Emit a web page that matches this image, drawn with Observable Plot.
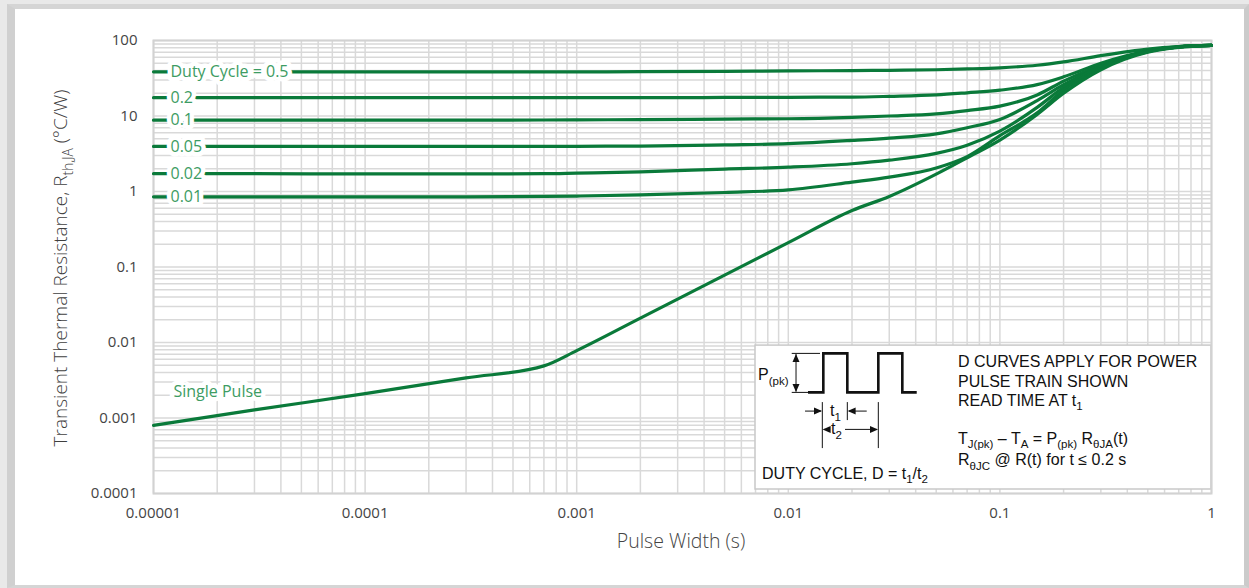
<!DOCTYPE html>
<html>
<head>
<meta charset="utf-8">
<script src="https://cdn.jsdelivr.net/npm/d3@7"></script>
<script src="https://cdn.jsdelivr.net/npm/@observablehq/plot@0.6"></script>
<style>
html, body { margin:0; padding:0; width:1249px; height:588px; overflow:hidden; background:#e9e9e9; }
#card { position:absolute; left:7px; top:4px; width:1229px; height:576px; background:#fff;
  border-left:8px solid #d0d0d0; border-top:5px solid #d5d5d5; border-right:5px solid #cbcbcb; border-bottom:3px solid #d5d5d5; }
#chart { position:absolute; left:0; top:0; }
</style>
</head>
<body>
<div id="card"></div>
<div id="chart"></div>
<script>
// ---- data ----
const pulseWidth = [1e-5, 3e-5, 1e-4, 3e-4, 7e-4, 1e-3, 2e-3, 5e-3, 0.01, 0.02, 0.03, 0.05, 0.07, 0.1, 0.15, 0.2, 0.3, 0.5, 0.7, 1];
const duty050 = [38.5, 38.5, 38.5, 38.5, 38.5, 38.5, 38.6, 39, 39.5, 40, 40.3, 41, 42, 43.5, 47, 52, 63, 77, 83, 86];
const duty020 = [17.5, 17.5, 17.5, 17.5, 17.5, 17.5, 17.5, 17.6, 17.7, 17.8, 18.2, 19, 20.3, 22, 26, 33, 50, 73, 83, 86];
const duty010 = [8.8, 8.8, 8.8, 8.8, 8.85, 8.9, 8.95, 9.1, 9.2, 9.6, 10, 10.7, 11.8, 13.5, 19, 29, 47, 72, 82, 86];
const duty005 = [3.95, 3.95, 3.95, 3.95, 3.95, 3.97, 4.0, 4.15, 4.3, 4.75, 5.1, 5.8, 7.0, 9.0, 16, 26, 45, 72, 82, 86];
const duty002 = [1.72, 1.72, 1.71, 1.71, 1.72, 1.75, 1.82, 1.98, 2.1, 2.33, 2.6, 3.2, 4.1, 6.3, 13, 24, 45, 72, 82, 86];
const duty001 = [0.85, 0.85, 0.85, 0.85, 0.86, 0.87, 0.9, 0.97, 1.05, 1.33, 1.55, 2.05, 2.9, 5.5, 11, 22, 43, 71, 82, 86];
const singlePulse = [0.0008, 0.00128, 0.0021, 0.0034, 0.0049, 0.0078, 0.021, 0.078, 0.21, 0.56, 0.86, 1.7, 2.8, 4.8, 10.5, 20, 41, 70, 81, 86];

const seriesNames = ["Duty Cycle = 0.5", "0.2", "0.1", "0.05", "0.02", "0.01", "Single Pulse"];
const seriesValues = [duty050, duty020, duty010, duty005, duty002, duty001, singlePulse];
const singlePulseLabelR = 0.0022;

const xTicks = [1e-5, 1e-4, 1e-3, 1e-2, 1e-1, 1];
const xTickLabels = ["0.00001", "0.0001", "0.001", "0.01", "0.1", "1"];
const yTicks = [1e-4, 1e-3, 1e-2, 1e-1, 1, 10, 100];
const yTickLabels = ["0.0001", "0.001", "0.01", "0.1", "1", "10", "100"];
const mantissas = [1, 2, 3, 4, 5, 6, 7, 8, 9];

// ---- derived tables ----
const curves = seriesNames.flatMap((name, s) =>
  pulseWidth.map((t, i) => ({series: name, t, r: seriesValues[s][i]})));
const labels = seriesNames.map((name, s) => ({
  text: name,
  t: pulseWidth[0] * (s === 6 ? 1.243 : 1.203),
  r: s === 6 ? singlePulseLabelR : seriesValues[s][0]
}));
const gridX = xTicks.slice(0, -1).flatMap(d => mantissas.map(m => m * d)).concat([xTicks[xTicks.length - 1]]);
const gridY = yTicks.slice(0, -1).flatMap(d => mantissas.map(m => m * d)).concat([yTicks[yTicks.length - 1]]);
const insetBox = [{t1: 0.007, t2: 1, r1: 0.000113, r2: 0.0091}];

const green = "#0a7a3a";
const labelGreen = "#3d9c63";

const chart = Plot.plot({
  width: 1249, height: 588,
  marginLeft: 153, marginRight: 38, marginTop: 40, marginBottom: 95,
  style: {background: "transparent", fontFamily: "'Open Sans', sans-serif", overflow: "visible"},
  x: {type: "log", domain: [1e-5, 1]},
  y: {type: "log", domain: [1e-4, 100]},
  marks: [
    Plot.ruleX(gridX, {stroke: "#d9d9d9", strokeWidth: 1.5}),
    Plot.ruleY(gridY, {stroke: "#d9d9d9", strokeWidth: 1.5}),
    Plot.rect(insetBox, {x1: "t1", x2: "t2", y1: "r1", y2: "r2", fill: "white", stroke: "#c9c9c9", strokeWidth: 1.5}),
    Plot.frame({stroke: "#d2d2d2", strokeWidth: 2}),
    Plot.line(curves, {x: "t", y: "r", z: "series", stroke: green, strokeWidth: 3.2, curve: "monotone-x"}),
    Plot.text(labels, {x: "t", y: "r", text: "text", textAnchor: "start", fill: labelGreen,
      stroke: "white", strokeWidth: 9, fontSize: 16, fontFamily: "'Open Sans', sans-serif"}),
    Plot.axisX(xTicks, {tickSize: 0, tickPadding: 14, label: null, fontSize: 15, fill: "#444",
      tickFormat: d => xTickLabels[xTicks.indexOf(d)]}),
    Plot.axisY(yTicks, {tickSize: 0, tickPadding: 16, label: null, fontSize: 15, fill: "#444",
      tickFormat: d => yTickLabels[yTicks.indexOf(d)]})
  ]
});
document.getElementById("chart").appendChild(chart);

// ---- helpers ----
const svg = d3.select(chart);
function rich(parent, x, y, parts, size) {
  const t = parent.append("text").attr("x", x).attr("y", y);
  let shift = 0;
  parts.forEach(([s, sub]) => {
    const target = sub ? size * 0.3 : 0;
    const sp = t.append("tspan").attr("dy", target - shift).text(s);
    if (sub) sp.attr("font-size", size * 0.72);
    shift = target;
  });
  return t;
}

// ---- axis titles ----
svg.append("text").attr("x", 681).attr("y", 548).attr("text-anchor", "middle")
  .attr("font-size", 19.5).attr("fill", "#444").attr("font-family", "'Open Sans', sans-serif").attr("font-weight", 300)
  .text("Pulse Width (s)");
const yt = svg.append("g").attr("transform", "translate(67,268) rotate(-90)")
  .attr("font-size", 19).attr("fill", "#3f3f3f").attr("font-family", "'Open Sans', sans-serif").attr("font-weight", 300)
  .attr("text-anchor", "middle");
rich(yt, 0, 0, [["Transient Thermal Resistance, R"], ["th,JA", true], [" (°C/W)"]], 19);

// ---- inset diagram ----
const sx = chart.scale("x"), sy = chart.scale("y");
const ox = sx.apply(insetBox[0].t1), oy = sy.apply(insetBox[0].r2);
const fs = 16;
const g = svg.append("g").attr("transform", `translate(${ox},${oy})`)
  .attr("font-family", "'Liberation Sans', Arial, sans-serif").attr("fill", "#111")
  .attr("text-anchor", "start").attr("font-size", fs);
const line = d3.line();
g.append("path").attr("d", line([[53,47.3],[68.3,47.3],[68.3,8.3],[92.3,8.3],[92.3,47.3],[123.3,47.3],[123.3,8.3],[147.3,8.3],[147.3,47.3],[161.7,47.3]]))
  .attr("fill", "none").attr("stroke", "#111").attr("stroke-width", 2.6);
const thin = (pts) => g.append("path").attr("d", line(pts)).attr("fill", "none").attr("stroke", "#111").attr("stroke-width", 1);
thin([[36.7,8.3],[65,8.3]]);
thin([[36.7,47.3],[53,47.3]]);
thin([[41,9],[41,46.5]]);
thin([[67.3,57],[67.3,103]]);
thin([[92.3,57],[92.3,75]]);
thin([[123.3,57],[123.3,103]]);
thin([[50,66],[66,66]]);
thin([[94,66],[111.7,66]]);
thin([[69,84.3],[74,84.3]]);
thin([[90,84.3],[122,84.3]]);
const head = (x, y, dir) => {
  let p;
  if (dir === "r") p = [[x, y], [x-8, y-3.5], [x-8, y+3.5]];
  if (dir === "l") p = [[x, y], [x+8, y-3.5], [x+8, y+3.5]];
  if (dir === "u") p = [[x, y], [x-3.5, y+8], [x+3.5, y+8]];
  if (dir === "d") p = [[x, y], [x-3.5, y-8], [x+3.5, y-8]];
  g.append("path").attr("d", line(p) + "Z").attr("fill", "#111");
};
head(41, 8.8, "u"); head(41, 46.8, "d");
head(67, 66, "r"); head(92.6, 66, "l");
head(67.6, 84.3, "l"); head(123, 84.3, "r");
rich(g, 3, 35, [["P"], ["(pk)", true]], fs);
rich(g, 75, 71, [["t"], ["1", true]], fs);
rich(g, 76, 89, [["t"], ["2", true]], fs);
rich(g, 7, 133.5, [["DUTY CYCLE, D = t"], ["1", true], ["/t"], ["2", true]], fs);
rich(g, 203, 22, [["D CURVES APPLY FOR POWER"]], fs);
rich(g, 203, 42, [["PULSE TRAIN SHOWN"]], fs);
rich(g, 203, 60.5, [["READ TIME AT t"], ["1", true]], fs);
rich(g, 203, 98.5, [["T"], ["J(pk)", true], [" – T"], ["A", true], [" = P"], ["(pk)", true], [" R"], ["θJA", true], ["(t)"]], fs);
rich(g, 203, 120, [["R"], ["θJC", true], [" @ R(t) for t ≤ 0.2 s"]], fs);
</script>
</body>
</html>
